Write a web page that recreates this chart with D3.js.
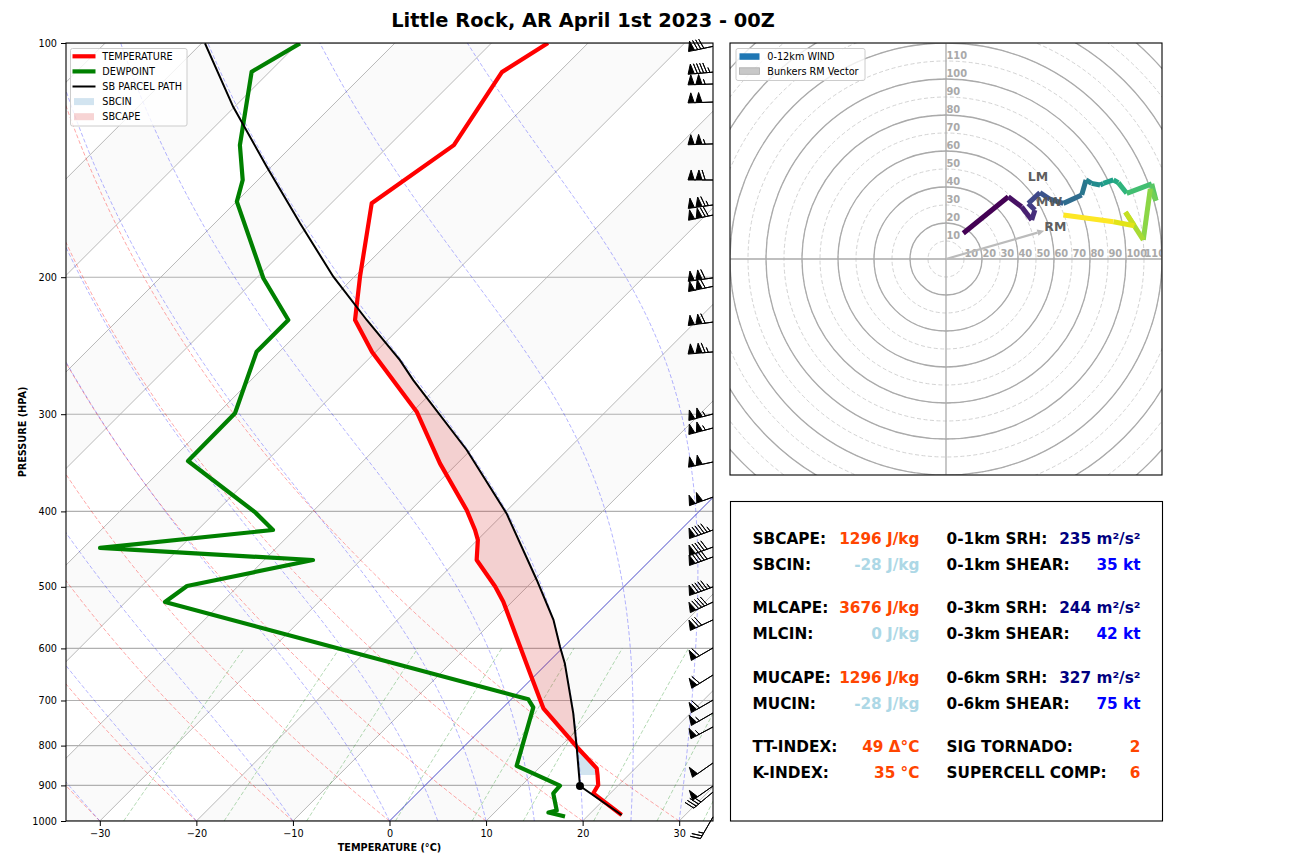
<!DOCTYPE html>
<html><head><meta charset="utf-8">
<script src="https://cdn.jsdelivr.net/npm/d3@7"></script>
<style>
body{margin:0;background:#fff}
svg{display:block}
text{font-family:"DejaVu Sans",sans-serif}
</style>
</head><body>
<svg id="c" width="1296" height="864"></svg>
<script>
// ---------------- DATA ----------------
const titleText = "Little Rock, AR April 1st 2023 - 00Z";
const tempP = [982.4,921.3,899.0,872.7,855.6,802.7,716.3,645.3,522.6,499.6,461.9,435.2,422.6,398.4,347.0,297.8,249.5,227.0,199.7,160.7,135.3,109.0,100];
const tempT = [23.42,18.24,17.89,16.78,16.0,11.69,4.26,-0.78,-10.92,-13.34,-18.0,-19.96,-21.28,-24.21,-31.81,-39.57,-50.38,-55.45,-59.42,-65.81,-63.32,-65.91,-64.15];
const dewP = [986.8,975.2,969.4,921.3,900.8,849.3,714.3,697.5,523.0,498.9,461.9,445.7,422.6,400.8,344.6,299.2,249.4,227.0,200.6,159.9,150.0,135.3,108.9,100.1];
const dewT = [17.71,15.58,16.23,14.09,14.0,7.45,3.12,1.77,-45.93,-45.30,-34.95,-58.25,-42.20,-45.93,-58.14,-58.22,-62.35,-62.36,-69.27,-79.95,-81.58,-85.48,-91.86,-89.80];
const parcelP = [982.4,901.6,802.7,727.1,627.3,597.0,551.4,490.0,402.4,333.5,271.2,255.6,227.0,199.7,170.5,144.2,120.8,100.1];
const parcelT = [23.42,16.10,11.69,7.88,1.84,-0.39,-3.85,-9.71,-19.73,-30.42,-43.20,-46.65,-54.24,-62.18,-71.16,-80.47,-90.14,-99.64];
const lclP = 901.6, lclT = 16.10;
const cinBottomP = 873;

const barbP = [101,109.0,112.9,119.1,134.8,150.0,161.5,166.4,200.4,205.5,228.4,249.5,299.8,312.5,345.6,383.4,422.6,444.5,457.7,500.2,523.1,551.4,599.2,649.2,699.2,726.4,757.0,842.2,901.6,917.8,988];
const barbSpeed = [80,95,105,100,105,110,115,120,110,110,110,115,105,105,100,100,95,90,90,95,90,70,60,60,60,55,55,50,50,40,25];
const barbDir = [258,265,268,268,268,270,262,258,262,258,262,265,255,255,258,250,250,250,250,250,245,245,240,238,240,240,242,235,235,230,210];

const hodoU = [9.6,34.6,42,47.6,49.4,45.7,52.2,57.8,65.2,75.4,77.8,80.9,85.6,87.4,93,95.7,100.4,114.3,116.7,113.5,109.6,99.7,104.6,93,65.2];
const hodoV = [14.3,34.6,29,21.7,27.2,30.9,36.9,33.2,30.9,35.6,43.9,42,41.1,42,43.9,42.4,36.5,41.7,32.4,39,10.6,26,18.5,20.7,24.4];
const stormNames = ["LM","MW","RM"];
const stormU = [45.4,50.0,54.6];
const stormV = [43.5,29.4,15.7];

const pressureTicks = [100,200,300,400,500,600,700,800,900,1000];
const tempTicks = [-30,-20,-10,0,10,20,30];
const hodoLabels = [10,20,30,40,50,60,70,80,90,100,110];
const dryT0 = [-50,-40,-30,-20,-10,0,10,20,30];
const moistT0 = [-30,-20,-10,0,5,10,15,20,25,30];
const mixRatios = [0.0004,0.001,0.002,0.004,0.007,0.01,0.016,0.024,0.032];

const leftLabels = ["SBCAPE:","SBCIN:","MLCAPE:","MLCIN:","MUCAPE:","MUCIN:","TT-INDEX:","K-INDEX:"];
const leftValues = ["1296 J/kg","-28 J/kg","3676 J/kg","0 J/kg","1296 J/kg","-28 J/kg","49 Δ°C","35 °C"];
const leftColors = ["orangered","lightblue","orangered","lightblue","orangered","lightblue","orangered","orangered"];
const rightLabels = ["0-1km SRH:","0-1km SHEAR:","0-3km SRH:","0-3km SHEAR:","0-6km SRH:","0-6km SHEAR:","SIG TORNADO:","SUPERCELL COMP:"];
const rightValues = ["235 m²/s²","35 kt","244 m²/s²","42 kt","327 m²/s²","75 kt","2","6"];
const rightColors = ["navy","blue","navy","blue","navy","blue","orangered","orangered"];

// ---------------- SETUP ----------------
const svg = d3.select('#c');
const PL=66, PR=713, PT=43, PB=821;
const y = d3.scaleLog().domain([1000,100]).range([PB,PT]);
const x = d3.scaleLinear().domain([-33.5,33.5]).range([PL,PR]);
const SKEW = 1.0;
const X = (T,p) => x(T) + SKEW*(y(1000)-y(p));

const defs = svg.append('defs');
defs.append('clipPath').attr('id','skewclip').append('rect').attr('x',PL).attr('y',PT).attr('width',PR-PL).attr('height',PB-PT);
defs.append('clipPath').attr('id','hodoclip').append('rect').attr('x',730).attr('y',43).attr('width',432).attr('height',432);

// title
svg.append('text').attr('x',583).attr('y',27).attr('text-anchor','middle')
  .attr('font-size',19.4).attr('font-weight','bold').text(titleText);

// ---------------- SKEW-T BACKGROUND ----------------
const g = svg.append('g').attr('clip-path','url(#skewclip)');
g.append('rect').attr('x',PL).attr('y',PT).attr('width',PR-PL).attr('height',PB-PT).attr('fill','#fff');
for(let Tb=-140; Tb<=20; Tb+=20){
  const pts=[[X(Tb,1000),y(1000)],[X(Tb+10,1000),y(1000)],[X(Tb+10,100),y(100)],[X(Tb,100),y(100)]];
  g.append('path').attr('d','M'+pts.join('L')+'Z').attr('fill','#fafafa');
}
for(let T=-130; T<=30; T+=10){
  g.append('line').attr('x1',X(T,1000)).attr('y1',y(1000)).attr('x2',X(T,100)).attr('y2',y(100))
   .attr('stroke','#b0b0b0').attr('stroke-width',0.9);
}
pressureTicks.forEach(p=>{
  g.append('line').attr('x1',PL).attr('x2',PR).attr('y1',y(p)).attr('y2',y(p)).attr('stroke','#b0b0b0').attr('stroke-width',1.1);
});
const line = d3.line().x(d=>X(d[1],d[0])).y(d=>y(d[0]));
const pLevels = d3.range(1000, 99, -5);
const kappa = 0.2857;
dryT0.forEach(t0=>{
  const pts = pLevels.map(p=>[p,(t0+273.15)*Math.pow(p/1000,kappa)-273.15]);
  g.append('path').attr('d',line(pts)).attr('fill','none').attr('stroke','red').attr('stroke-opacity',0.35)
   .attr('stroke-width',1).attr('stroke-dasharray','4,2.2');
});
function moist(t0){
  const Rd=287.04749, Cp=1004.6662, Lv=2.50084e6, eps=0.6219569;
  const es = T=>6.112*Math.exp(17.67*(T-273.15)/(T-29.65));
  const f=(p,T)=>{const e=es(T); const rs=eps*e/(p-e); return (Rd*T+Lv*rs)/(Cp+(Lv*Lv*rs*eps)/(Rd*T*T))/p;};
  let T=t0+273.15, p=1000; const h=-2; const out=[[p,T-273.15]];
  while(p>100){
    const k1=f(p,T), k2=f(p+h/2,T+h/2*k1), k3=f(p+h/2,T+h/2*k2), k4=f(p+h,T+h*k3);
    T += h/6*(k1+2*k2+2*k3+k4); p+=h; out.push([p,T-273.15]);
  }
  return out;
}
moistT0.forEach(t0=>{
  g.append('path').attr('d',line(moist(t0))).attr('fill','none').attr('stroke','blue').attr('stroke-opacity',0.3)
   .attr('stroke-width',1).attr('stroke-dasharray','4,2.2');
});
mixRatios.forEach(w=>{
  const pts = d3.range(1000,599,-10).map(p=>{
    const e=w*p/(0.6219569+w); const l=Math.log(e/6.112);
    return [p,243.5*l/(17.67-l)];
  });
  g.append('path').attr('d',line(pts)).attr('fill','none').attr('stroke','green').attr('stroke-opacity',0.3)
   .attr('stroke-width',1).attr('stroke-dasharray','4,2.2');
});
g.append('line').attr('x1',X(0,1000)).attr('y1',y(1000)).attr('x2',X(0,100)).attr('y2',y(100))
  .attr('stroke','#0000ff').attr('stroke-opacity',0.5).attr('stroke-width',1);

// ---------------- CAPE / CIN ----------------
const tPts = tempP.map((p,i)=>[X(tempT[i],p),y(p)]);
const pPts = parcelP.map((p,i)=>[X(parcelT[i],p),y(p)]);
function interpX(pts, yy){
  for(let i=0;i<pts.length-1;i++){
    const a=pts[i], b=pts[i+1];
    if((yy<=a[1]&&yy>=b[1])){ const t=(a[1]-yy)/(a[1]-b[1]||1); return a[0]+t*(b[0]-a[0]); }
  }
  return NaN;
}
const yStart = y(cinBottomP);
const samples=[];
for(let yy=yStart; yy>=Math.max(tPts[tPts.length-1][1],pPts[pPts.length-1][1]); yy-=0.5){
  samples.push([interpX(tPts,yy), yy, interpX(pPts,yy)]);
}
let lfcIdx=-1, elIdx=-1;
for(let i=1;i<samples.length;i++){
  const d0=samples[i-1][2]-samples[i-1][0], d1=samples[i][2]-samples[i][0];
  if(lfcIdx<0 && d0<=0 && d1>0) lfcIdx=i;
  else if(lfcIdx>=0 && elIdx<0 && d0>0 && d1<=0){ elIdx=i; }
}
const area = d3.area().y(d=>d[1]).x0(d=>d[0]).x1(d=>d[2]);
if(lfcIdx>0){
  g.append('path').attr('d',area(samples.slice(0,lfcIdx+1))).attr('fill','#1f77b4').attr('fill-opacity',0.2);
  g.append('path').attr('d',area(samples.slice(lfcIdx-1,elIdx+1))).attr('fill','#d62728').attr('fill-opacity',0.2);
}

// ---------------- PROFILES ----------------
const lin = d3.line().x(d=>d[0]).y(d=>d[1]);
g.append('path').attr('d',lin(tPts)).attr('fill','none').attr('stroke','red').attr('stroke-width',4.2).attr('stroke-linejoin','round');
g.append('path').attr('d',lin(dewP.map((p,i)=>[X(dewT[i],p),y(p)]))).attr('fill','none').attr('stroke','green').attr('stroke-width',4.2).attr('stroke-linejoin','round');
g.append('path').attr('d',lin(pPts)).attr('fill','none').attr('stroke','black').attr('stroke-width',2);
g.append('circle').attr('cx',X(lclT,lclP)).attr('cy',y(lclP)).attr('r',4).attr('fill','black');

// ---------------- AXES ----------------
svg.append('rect').attr('x',PL).attr('y',PT).attr('width',PR-PL).attr('height',PB-PT).attr('fill','none').attr('stroke','black').attr('stroke-width',1.1);
const ya = svg.append('g').attr('transform',`translate(${PL},0)`).call(d3.axisLeft(y).tickValues(pressureTicks).tickFormat(d3.format('d')).tickSize(5).tickPadding(4));
const xa = svg.append('g').attr('transform',`translate(0,${PB})`).call(d3.axisBottom(x).tickValues(tempTicks).tickSize(5).tickPadding(4));
[ya,xa].forEach(a=>{a.select('.domain').remove(); a.attr('font-family','DejaVu Sans').attr('font-size',9.7);});
svg.append('text').attr('x',(PL+PR)/2).attr('y',850.5).attr('text-anchor','middle').attr('font-size',9.7).attr('font-weight','bold').text('TEMPERATURE (°C)');
svg.append('text').attr('transform','translate(25.5,432) rotate(-90)').attr('text-anchor','middle').attr('font-size',9.7).attr('font-weight','bold').text('PRESSURE (HPA)');

// ---------------- BARBS ----------------
function barbVerts(spd, dir){
  const L=25, spacing=L*0.125, fh=L*0.4, fw=L*0.25;
  let mag = 5*Math.round(spd/5);
  const nflags=Math.floor(mag/50); mag-=nflags*50;
  const nbarbs=Math.floor(mag/10); mag-=nbarbs*10;
  const half = mag>=5;
  const v=[[0,0]]; let off=L;
  for(let i=0;i<nflags;i++){ if(off!==L) off+=spacing/2; v.push([0,off],[fh,off-fw/2],[0,off-fw]); off-=fw+spacing; }
  for(let i=0;i<nbarbs;i++){ v.push([0,off],[fh,off+fw/2],[0,off]); off-=spacing; }
  if(half){ if(off===L){ v.push([0,off]); off-=1.5*spacing; } v.push([0,off],[fh/2,off+fw/4],[0,off]); }
  const r=dir*Math.PI/180, u=-Math.sin(r), w=-Math.cos(r);
  const th=Math.atan2(w,u)+Math.PI/2, c=Math.cos(th), s=Math.sin(th);
  return v.map(([a,b])=>[a*c-b*s, -(a*s+b*c)]);
}
const bg = svg.append('g');
barbP.forEach((p,i)=>{
  const vs = barbVerts(barbSpeed[i], barbDir[i]);
  const bx=PR, by=y(p);
  bg.append('path').attr('d','M'+vs.map(v=>[bx+v[0],by+v[1]]).join('L')+'Z')
    .attr('fill','black').attr('stroke','black').attr('stroke-width',1).attr('stroke-linejoin','miter');
});

// ---------------- SKEW LEGEND ----------------
const lg = svg.append('g');
lg.append('rect').attr('x',70.5).attr('y',48.5).attr('width',116.5).attr('height',77.5).attr('rx',2).attr('fill','white').attr('fill-opacity',0.8).attr('stroke','#cccccc');
const legItems = [
  {t:'TEMPERATURE', type:'line', c:'red', w:4.2},
  {t:'DEWPOINT', type:'line', c:'green', w:4.2},
  {t:'SB PARCEL PATH', type:'line', c:'black', w:2},
  {t:'SBCIN', type:'patch', c:'#1f77b4'},
  {t:'SBCAPE', type:'patch', c:'#d62728'}
];
legItems.forEach((it,i)=>{
  const cy = 56.3 + i*15.1;
  if(it.type==='line') lg.append('line').attr('x1',72.5).attr('x2',95.5).attr('y1',cy).attr('y2',cy).attr('stroke',it.c).attr('stroke-width',it.w);
  else lg.append('rect').attr('x',74).attr('y',cy-3.5).attr('width',20).attr('height',7).attr('fill',it.c).attr('fill-opacity',0.2);
  lg.append('text').attr('x',102.3).attr('y',cy+3.5).attr('font-size',9.7).text(it.t);
});

// ---------------- HODOGRAPH ----------------
const hx = d3.scaleLinear().domain([-120,120]).range([730,1162]);
const hy = d3.scaleLinear().domain([-120,120]).range([475,43]);
const hg = svg.append('g').attr('clip-path','url(#hodoclip)');
hg.append('rect').attr('x',730).attr('y',43).attr('width',432).attr('height',432).attr('fill','white');
const rpx = r=>hx(r)-hx(0);
for(let r=10;r<=170;r+=10){
  hg.append('circle').attr('cx',hx(0)).attr('cy',hy(0)).attr('r',rpx(r)).attr('fill','none')
    .attr('stroke','#d3d3d3').attr('stroke-width',1).attr('stroke-dasharray','4,2.5');
}
for(let r=20;r<=170;r+=20){
  hg.append('circle').attr('cx',hx(0)).attr('cy',hy(0)).attr('r',rpx(r)).attr('fill','none')
    .attr('stroke','#aaaaaa').attr('stroke-width',1.3);
}
hg.append('line').attr('x1',730).attr('x2',1162).attr('y1',hy(0)).attr('y2',hy(0)).attr('stroke','#aaaaaa').attr('stroke-width',1.3);
hg.append('line').attr('y1',43).attr('y2',475).attr('x1',hx(0)).attr('x2',hx(0)).attr('stroke','#aaaaaa').attr('stroke-width',1.3);
hodoLabels.forEach(v=>{
  hg.append('text').attr('x',hx(v)+0.5).attr('y',hy(0)-2.3).attr('font-size',9.9).attr('font-weight','bold').attr('fill','#a9a9a9').text(v);
  hg.append('text').attr('x',hx(0)+0.5).attr('y',hy(v)-2.3).attr('font-size',9.9).attr('font-weight','bold').attr('fill','#a9a9a9').text(v);
});
const nSeg = hodoU.length-1;
for(let i=0;i<nSeg;i++){
  hg.append('line').attr('x1',hx(hodoU[i])).attr('y1',hy(hodoV[i])).attr('x2',hx(hodoU[i+1])).attr('y2',hy(hodoV[i+1]))
    .attr('stroke',d3.interpolateViridis(i/(nSeg-1))).attr('stroke-width',5).attr('stroke-linecap','butt');
}
{
  const x1=hx(0), y1=hy(0), x2=hx(stormU[2]), y2=hy(stormV[2]);
  const ang=Math.atan2(y2-y1,x2-x1), hl=7, hw=3.2;
  const bx=x2-hl*Math.cos(ang), by=y2-hl*Math.sin(ang);
  hg.append('line').attr('x1',x1).attr('y1',y1).attr('x2',bx).attr('y2',by).attr('stroke','#bbbbbb').attr('stroke-width',2.2);
  hg.append('path').attr('d',`M${x2},${y2}L${bx-hw*Math.sin(ang)},${by+hw*Math.cos(ang)}L${bx+hw*Math.sin(ang)},${by-hw*Math.cos(ang)}Z`).attr('fill','#bbbbbb');
}
stormNames.forEach((n,i)=>{
  hg.append('text').attr('x',hx(stormU[i])).attr('y',hy(stormV[i])).attr('font-size',12.5).attr('font-weight','bold').attr('fill','#555555').attr('fill-opacity',0.95).text(n);
});
svg.append('rect').attr('x',730).attr('y',43).attr('width',432).attr('height',432).attr('fill','none').attr('stroke','black').attr('stroke-width',1.1);
const hl = svg.append('g');
hl.append('rect').attr('x',736).attr('y',48.5).attr('width',129).attr('height',32).attr('rx',2).attr('fill','white').attr('fill-opacity',0.8).attr('stroke','#cccccc');
hl.append('rect').attr('x',739.5).attr('y',53.3).attr('width',20).attr('height',6.5).attr('fill','#1f77b4');
hl.append('text').attr('x',767.3).attr('y',59.5).attr('font-size',9.7).text('0-12km WIND');
hl.append('rect').attr('x',739.5).attr('y',67.8).attr('width',20).attr('height',6.5).attr('fill','#c8c8c8').attr('stroke','#aaaaaa').attr('stroke-width',0.8);
hl.append('text').attr('x',767.3).attr('y',74.5).attr('font-size',9.7).text('Bunkers RM Vector');

// ---------------- TEXT PANEL ----------------
svg.append('rect').attr('x',730.5).attr('y',501.5).attr('width',432).attr('height',319.5).attr('fill','white').attr('stroke','black').attr('stroke-width',1.1);
const rowBase = [544,570,613.3,639.3,682.5,708.5,752,778];
const tp = svg.append('g').attr('font-size',15.3).attr('font-weight','bold');
rowBase.forEach((yy,i)=>{
  tp.append('text').attr('x',752.5).attr('y',yy).attr('fill','black').text(leftLabels[i]);
  tp.append('text').attr('x',919.5).attr('y',yy).attr('text-anchor','end').attr('fill',leftColors[i]).text(leftValues[i]);
  tp.append('text').attr('x',946.5).attr('y',yy).attr('fill','black').text(rightLabels[i]);
  tp.append('text').attr('x',1140.5).attr('y',yy).attr('text-anchor','end').attr('fill',rightColors[i]).text(rightValues[i]);
});
</script>
</body></html>
